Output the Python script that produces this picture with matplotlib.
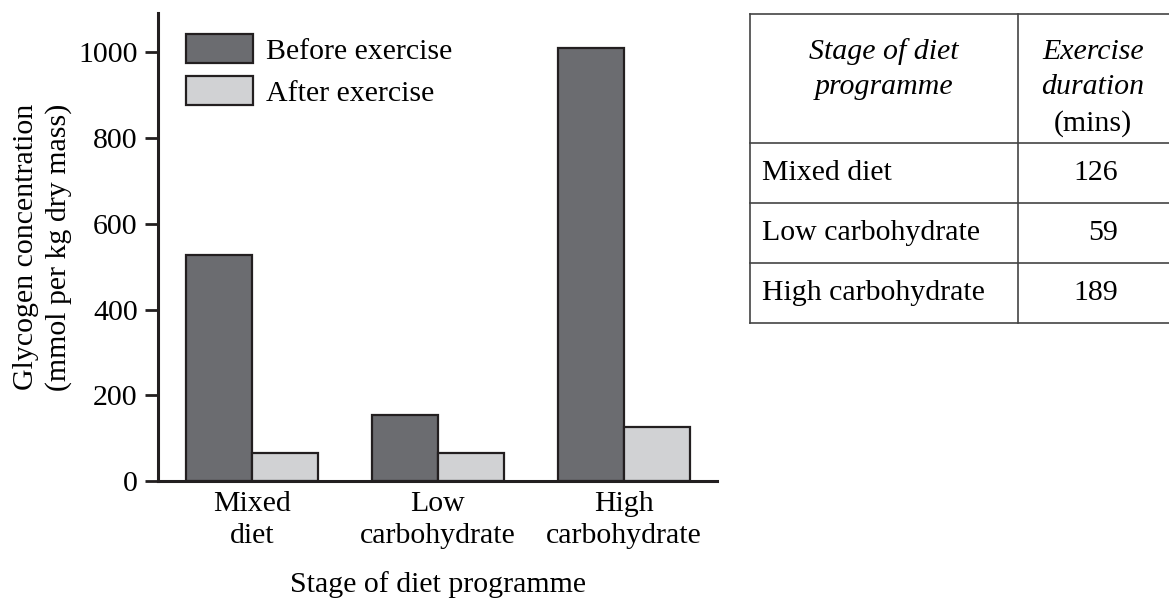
import matplotlib.pyplot as plt
import numpy as np

# bar chart data
stages = ["Mixed\ndiet", "Low\ncarbohydrate", "High\ncarbohydrate"]
before = [527, 154, 1010]
after = [65, 65, 125]
yticks = [0, 200, 400, 600, 800, 1000]

# table data
table_stages = ["Mixed diet", "Low carbohydrate", "High carbohydrate"]
durations = [126, 59, 189]

plt.rcParams['font.family'] = ['Liberation Serif', 'DejaVu Serif']
plt.rcParams['font.size'] = 21.5
ink = '#231f20'

fig = plt.figure(figsize=(11.69, 6.01), dpi=100)
W, H = 1169, 601

# chart
ax = fig.add_axes([158 / W, 1 - 481 / H, (717 - 158) / W, (481 - 13) / H])
x = np.arange(len(stages))
w = 0.355
ax.bar(x - w / 2, before, w, color='#6b6c70', edgecolor=ink, linewidth=1.6,
       label='Before exercise')
ax.bar(x + w / 2, after, w, color='#d1d2d4', edgecolor=ink, linewidth=1.6,
       label='After exercise')

ax.set_xlim(-0.505, 2.5)
ax.set_ylim(0, 1092)
ax.set_yticks(yticks)
ax.set_xticks(x)
ax.set_xticklabels(stages, linespacing=1.3)
ax.tick_params(axis='y', length=9.5, width=2, color=ink, pad=5)
ax.tick_params(axis='x', length=0, pad=7)
for s in ['top', 'right']:
    ax.spines[s].set_visible(False)
for s in ['left', 'bottom']:
    ax.spines[s].set_linewidth(2.2)
    ax.spines[s].set_color(ink)

ax.set_ylabel('Glycogen concentration\n(mmol per kg dry mass)', linespacing=1.3)
ax.yaxis.set_label_coords(-0.153, 0.5)
ax.set_xlabel('Stage of diet programme', labelpad=16)

ax.legend(loc='upper left', bbox_to_anchor=(0.05, 0.955), frameon=False,
          handlelength=2.24, handleheight=1.1, handletextpad=0.43,
          labelspacing=0.4, borderpad=0, borderaxespad=0)

# table
tax = fig.add_axes([750 / W, 1 - 323 / H, (W - 750) / W, 309 / H])
tax.set_xlim(0, W - 750)
tax.set_ylim(309, 0)
tax.axis('off')
line_kw = dict(color='#444444', linewidth=1.2, clip_on=False)
row_edges = [0, 129, 189, 249, 309]
for y in row_edges:
    tax.plot([0, W - 750 + 5], [y, y], **line_kw)
for xv in [0, 268]:
    tax.plot([xv, xv], [0, 309], **line_kw)

tax.text(134, 38, 'Stage of diet', ha='center', va='center', style='italic')
tax.text(134, 73, 'programme', ha='center', va='center', style='italic')
tax.text(343, 38, 'Exercise', ha='center', va='center', style='italic')
tax.text(343, 73, 'duration', ha='center', va='center', style='italic')
tax.text(343, 110, '(mins)', ha='center', va='center')

for i, (name, d) in enumerate(zip(table_stages, durations)):
    yc = (row_edges[i + 1] + row_edges[i + 2]) / 2
    tax.text(12, yc, name, ha='left', va='center')
    tax.text(368, yc, str(d), ha='right', va='center')

fig.savefig('out.png', dpi=100)
